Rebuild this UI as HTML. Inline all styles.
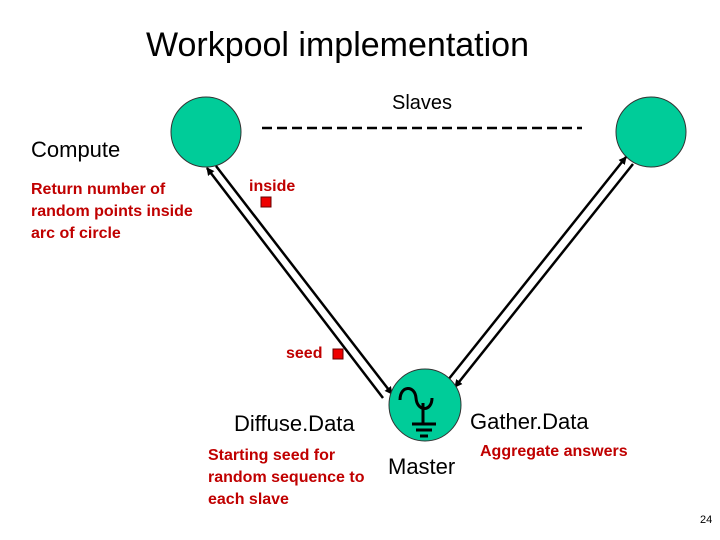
<!DOCTYPE html>
<html><head><style>
body{margin:0;width:720px;height:540px;background:#fff;position:relative;overflow:hidden;font-family:"Liberation Sans",sans-serif}
.t{position:absolute;white-space:nowrap}
.r{color:#c00000;font-weight:bold;font-size:16px;line-height:22px}
</style></head><body>
<svg width="720" height="540" style="position:absolute;left:0;top:0">
<defs><marker id="a" markerWidth="8" markerHeight="8" refX="7" refY="4" orient="auto" markerUnits="userSpaceOnUse"><path d="M0,0 L8,4 L0,8z" fill="#000"/></marker></defs>
<line x1="262" y1="128" x2="582" y2="128" stroke="#000" stroke-width="2.5" stroke-dasharray="10,5"/>
<circle cx="206" cy="132" r="35" fill="#00cc99" stroke="#333"/>
<circle cx="651" cy="132" r="35" fill="#00cc99" stroke="#333"/>
<line x1="383" y1="398" x2="207" y2="168" stroke="#000" stroke-width="2.5" marker-end="url(#a)"/>
<line x1="216" y1="166" x2="392" y2="394" stroke="#000" stroke-width="2.5" marker-end="url(#a)"/>
<line x1="448" y1="380" x2="626" y2="157" stroke="#000" stroke-width="2.5" marker-end="url(#a)"/>
<line x1="633" y1="164" x2="455" y2="387" stroke="#000" stroke-width="2.5" marker-end="url(#a)"/>
<circle cx="425" cy="405" r="36" fill="#00cc99" stroke="#333"/>
<path d="M400,400 C400,385 415,385 416,398 C417,412 432,412 432,398" fill="none" stroke="#000" stroke-width="3"/>
<line x1="423" y1="403" x2="423" y2="424" stroke="#000" stroke-width="3"/>
<line x1="412" y1="424" x2="436" y2="424" stroke="#000" stroke-width="3"/>
<line x1="416" y1="430" x2="432" y2="430" stroke="#000" stroke-width="3"/>
<line x1="420" y1="436" x2="428" y2="436" stroke="#000" stroke-width="3"/>
<rect x="261" y="197" width="10" height="10" fill="#e00" stroke="#600"/>
<rect x="333" y="349" width="10" height="10" fill="#e00" stroke="#600"/>
</svg>
<div class="t" style="left:146px;top:26px;font-size:34px">Workpool implementation</div>
<div class="t" style="left:392px;top:92px;font-size:20px">Slaves</div>
<div class="t" style="left:31px;top:137px;font-size:22px">Compute</div>
<div class="t r" style="left:31px;top:179px">Return number of<br>random points inside<br>arc of circle</div>
<div class="t r" style="left:249px;top:176px">inside</div>
<div class="t r" style="left:286px;top:343px">seed</div>
<div class="t" style="left:234px;top:411px;font-size:22px">Diffuse.Data</div>
<div class="t r" style="left:208px;top:445px">Starting seed for<br>random sequence to<br>each slave</div>
<div class="t" style="left:388px;top:454px;font-size:22px">Master</div>
<div class="t" style="left:470px;top:409px;font-size:22px">Gather.Data</div>
<div class="t r" style="left:480px;top:441px">Aggregate answers</div>
<div class="t" style="left:700px;top:514px;font-size:11px">24</div>
</body></html>
